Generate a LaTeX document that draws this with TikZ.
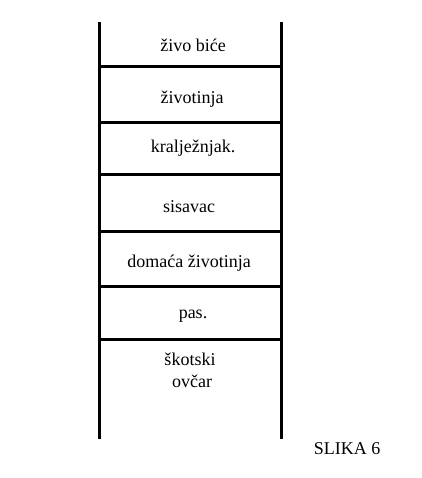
\documentclass[tikz,border=0pt]{standalone}
\usepackage{fontspec}
\setmainfont{Liberation Serif}
\usetikzlibrary{positioning}

\begin{document}
\begin{tikzpicture}[x=1pt, y=-1pt, line width=3pt,
    pojam/.style={anchor=base, font=\fontsize{18}{22}\selectfont}]
\useasboundingbox (0,0) rectangle (421,478);
% Ljestve
\draw (99,22) -- (99,439);
\draw (281,22) -- (281,439);
% Precke
\foreach \y in {67,123,175,231,286,339}
  \draw (99,\y) -- (281,\y);
% Pojmovi
\node[pojam] (bice) at (193,52) {živo biće};
\node[pojam] (zivotinja) at (192,104) {životinja};
\node[pojam] (kraljeznjak) at (193,153) {kralježnjak.};
\node[pojam] (sisavac) at (189,212) {sisavac};
\node[pojam] (domaca) at (189,267) {domaća životinja};
\node[pojam] (pas) at (193,318) {pas.};
\node[pojam] (skotski) at (190,365) {škotski};
\node[pojam] (ovcar) at (192,387) {ovčar};
% Oznaka slike
\node[pojam] (slika) at (347,454) {SLIKA 6};
\end{tikzpicture}
\end{document}
